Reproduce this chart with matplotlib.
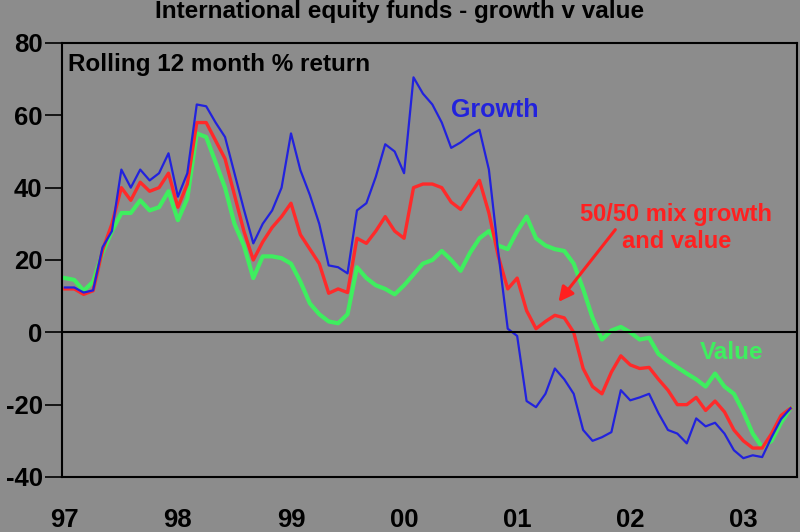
import numpy as np
import matplotlib.pyplot as plt

# --- data: rolling 12 month % return, monthly Jan 97 .. Jun 03 ---
growth = [12.4, 12.4, 11.0, 11.6, 23.5, 28.0, 45.0, 40.0, 45.0, 42.0,
          44.0, 49.5, 37.5, 44.0, 63.0, 62.5, 58.0, 54.0, 44.0, 34.0,
          24.6, 30.0, 33.7, 40.0, 55.0, 44.8, 38.0, 30.0, 18.5, 18.0,
          16.3, 33.7, 35.7, 43.0, 52.0, 50.0, 44.0, 70.5, 66.0, 63.0,
          58.0, 51.0, 52.5, 54.5, 56.0, 45.0, 22.0, 1.0, -1.0, -19.0,
          -20.7, -17.0, -10.0, -13.0, -17.0, -27.0, -30.0, -29.0, -27.6, -16.0,
          -18.8, -18.0, -17.0, -22.4, -27.0, -28.0, -30.7, -23.8, -26.0, -25.0,
          -28.0, -32.6, -34.8, -34.0, -34.5, -29.0, -24.0, -21.0]
mix = [12.0, 12.0, 10.5, 11.5, 22.7, 30.0, 40.0, 36.5, 41.5, 39.0,
       40.0, 44.0, 34.6, 41.0, 58.0, 58.0, 53.0, 48.0, 38.0, 28.0,
       20.0, 25.0, 29.0, 32.0, 35.7, 27.0, 23.0, 19.0, 10.8, 12.0,
       11.0, 26.0, 24.6, 28.0, 32.0, 28.0, 26.0, 40.0, 41.0, 41.0,
       40.0, 36.0, 34.0, 38.0, 42.0, 33.0, 21.0, 12.0, 15.0, 6.0,
       1.0, 3.0, 4.7, 4.0, 0.0, -10.0, -15.0, -17.0, -11.0, -6.5,
       -9.0, -10.0, -9.7, -13.0, -16.0, -20.0, -20.0, -18.0, -21.6, -19.0,
       -22.0, -27.0, -30.0, -32.0, -32.0, -28.0, -23.0, -21.0]
value = [15.0, 14.5, 11.5, 14.0, 22.0, 28.0, 33.0, 33.0, 36.5, 33.7,
         34.6, 39.0, 31.0, 37.0, 55.0, 54.0, 47.0, 40.0, 30.0, 24.0,
         15.0, 21.0, 21.0, 20.5, 19.0, 14.0, 8.0, 5.0, 3.0, 2.5,
         5.0, 18.0, 15.0, 13.0, 12.0, 10.5, 13.0, 16.0, 19.0, 20.0,
         22.5, 20.0, 17.0, 22.0, 26.0, 28.0, 24.0, 23.0, 28.0, 32.0,
         26.0, 24.0, 23.0, 22.5, 19.0, 12.0, 4.0, -2.0, 0.5, 1.5,
         0.0, -2.0, -1.5, -6.0, -8.0, -9.7, -11.4, -13.0, -15.0, -11.4,
         -15.0, -17.0, -22.0, -28.0, -31.8, -30.0, -25.0, -21.0]
year_labels = ["97", "98", "99", "00", "01", "02", "03"]
y_ticks = [-40, -20, 0, 20, 40, 60, 80]

months = np.arange(len(growth))
bg = "#8c8c8c"
font = ["Liberation Sans", "DejaVu Sans"]

fig = plt.figure(figsize=(8, 5.32), dpi=100, facecolor=bg)
ax = fig.add_axes([0.0775, 0.1034, 0.9188, 0.8158], facecolor=bg)

ax.plot(months, value, color="#3fee5f", lw=3.0)
ax.plot(months, mix, color="#ff2a2a", lw=2.4)
ax.plot(months, growth, color="#2222dd", lw=1.6)
ax.axhline(0, color="black", lw=1.5)

ax.set_xlim(-0.3, 77.7)
ax.set_ylim(-40, 80)
ax.set_yticks(y_ticks)
ax.set_yticklabels([str(v) for v in y_ticks], family=font,
                   fontsize=18.5, fontweight="bold")
ax.set_xticks(np.arange(0, 73, 12))
ax.set_xticklabels(year_labels, family=font, fontsize=18.5, fontweight="bold")
ax.tick_params(axis="y", direction="out", length=12, width=1.2, pad=2)
ax.tick_params(axis="x", length=0, pad=22)
for s in ax.spines.values():
    s.set_linewidth(1.5)

fig.text(0.5, 0.978, "International equity funds - growth v value",
         ha="center", va="center", family=font, fontsize=17.5,
         fontweight="bold")
ax.text(0.008, 0.935, "Rolling 12 month % return", transform=ax.transAxes,
        family=font, fontsize=17.5, fontweight="bold", color="black")
ax.text(41.0, 61.4, "Growth", va="center", family=font, fontsize=18,
        fontweight="bold", color="#2222dd")
ax.text(64.9, 28.8, "50/50 mix growth\nand value", ha="center", va="center",
        family=font, fontsize=17, fontweight="bold", color="#ff2020",
        linespacing=1.25)
ax.text(67.4, -5.5, "Value", va="center", family=font, fontsize=17.5,
        fontweight="bold", color="#3fee5f")
ax.annotate("", xy=(52.2, 7.8), xytext=(58.6, 29.0),
            arrowprops=dict(arrowstyle="-|>", color="#ff2020", lw=2.2,
                            mutation_scale=22))

fig.savefig("out.png", dpi=100, facecolor=bg)
plt.close(fig)
